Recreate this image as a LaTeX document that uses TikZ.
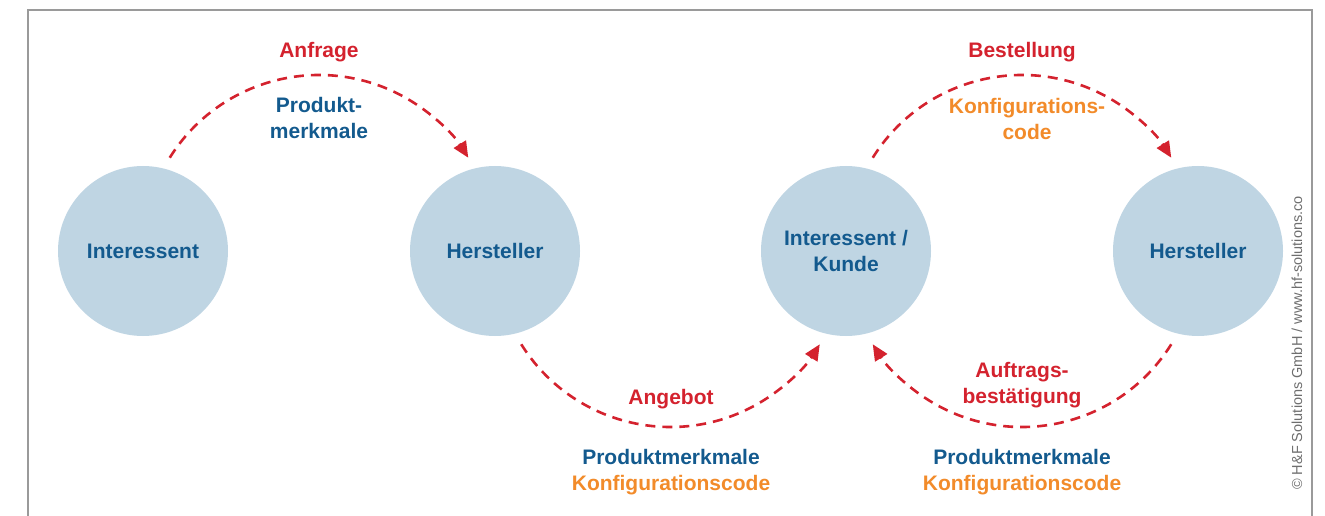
\documentclass[tikz,border=0pt]{standalone}
\usepackage{fontspec}
\setmainfont{Liberation Sans}
\usetikzlibrary{arrows.meta,calc}
\definecolor{circfill}{HTML}{BFD5E3}
\definecolor{txtblue}{HTML}{135A8E}
\definecolor{txtred}{HTML}{D4222E}
\definecolor{txtorange}{HTML}{F28B2A}
\definecolor{framegray}{HTML}{9A9A9A}
\definecolor{copygray}{HTML}{6E6E6E}
\tikzset{
  party/.style={circle, fill=circfill, minimum size=170pt, inner sep=0pt,
    align=center, text=txtblue, font=\fontsize{21}{26}\selectfont\bfseries},
  lbl/.style={align=center, font=\fontsize{21}{26}\selectfont\bfseries},
  flow/.style={draw=txtred, line width=2.6pt, dash pattern=on 10pt off 7pt,
    -{Triangle[length=16pt,width=14pt]}},
}
\begin{document}
\begin{tikzpicture}[x=1pt,y=1pt]
\useasboundingbox (0,0) rectangle (1325,515);
% outer frame, open at the bottom
\draw[framegray, line width=1.6pt] (28,-5) |- (1312,505) -- (1312,-5);

% parties
\node[party] (i1) at (143,264) {Interessent};
\node[party] (h1) at (495,264) {Hersteller};
\node[party] (ik) at (846,264) {Interessent /\\Kunde};
\node[party] (h2) at (1198,264) {Hersteller};

% arc centres between neighbouring parties
\coordinate (m1) at ($(i1)!0.5!(h1)$);
\coordinate (m2) at ($(h1)!0.5!(ik)$);
\coordinate (m3) at ($(ik)!0.5!(h2)$);

% message flows
\draw[flow] ([shift={(148:176)}]m1) arc[start angle=148, end angle=32, radius=176];
\draw[flow] ([shift={(212:176)}]m2) arc[start angle=212, end angle=328, radius=176];
\draw[flow] ([shift={(148:176)}]m3) arc[start angle=148, end angle=32, radius=176];
\draw[flow] ([shift={(328:176)}]m3) arc[start angle=328, end angle=212, radius=176];

% labels
\node[lbl, text=txtred] (l1) at (319,463) {Anfrage};
\node[lbl, text=txtblue] (l2) at (319,397) {Produkt-\\merkmale};
\node[lbl, text=txtred] (l3) at (1022,463) {Bestellung};
\node[lbl, text=txtorange] (l4) at (1027,396.5) {Konfigurations-\\code};
\node[lbl, text=txtred] (l5) at (671,116) {Angebot};
\node[lbl] (l6) at (671,43) {\textcolor{txtblue}{Produktmerkmale}\\\textcolor{txtorange}{Konfigurationscode}};
\node[lbl, text=txtred] (l7) at (1022,130) {Auftrags-\\bestätigung};
\node[lbl] (l8) at (1022,43) {\textcolor{txtblue}{Produktmerkmale}\\\textcolor{txtorange}{Konfigurationscode}};

% copyright
\node[rotate=90, text=copygray, font=\fontsize{14.5}{16}\selectfont] (cp) at (1297,172)
  {© H\&F Solutions GmbH / www.hf-solutions.co};
\end{tikzpicture}
\end{document}
